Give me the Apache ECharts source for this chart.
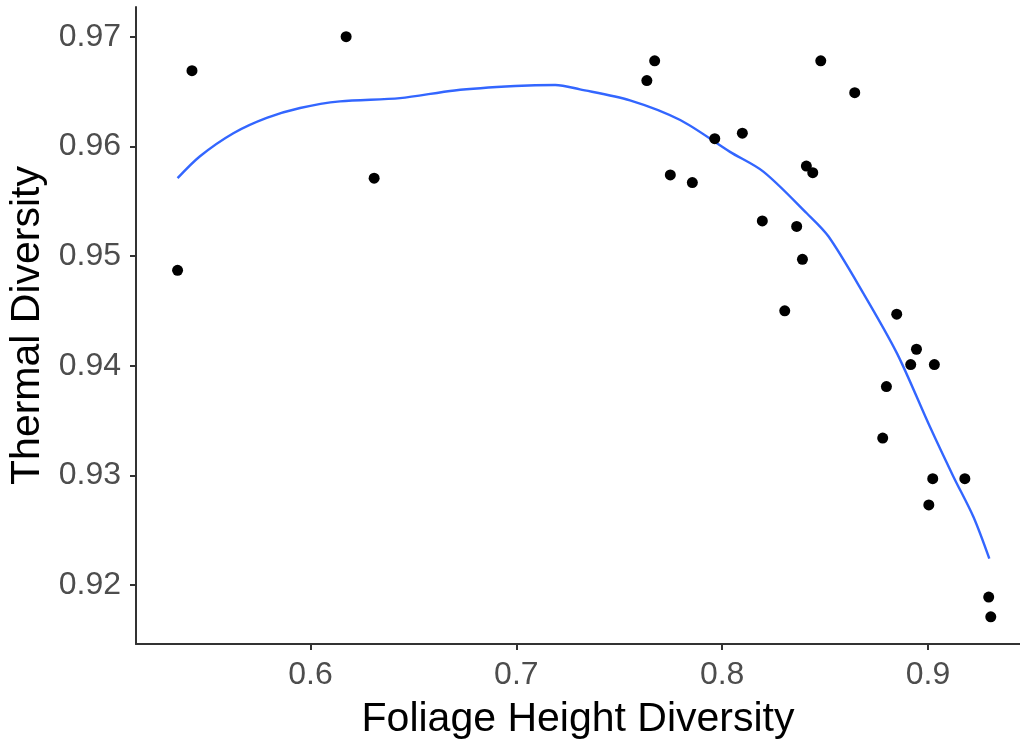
<!DOCTYPE html>
<html>
<head>
<meta charset="utf-8">
<title>Thermal vs Foliage Height Diversity</title>
<script src="https://cdn.jsdelivr.net/npm/echarts@6/dist/echarts.min.js"></script>
<style>
  html, body { margin: 0; padding: 0; background: #fff; }
  #chart { width: 1020px; height: 744px; }
</style>
</head>
<body>
<div id="chart"></div>
<script>
  // observed sites: foliage height diversity / thermal diversity
  var foliageX = [0.5354, 0.5424, 0.6173, 0.6309, 0.7634, 0.7672, 0.7748, 0.7855, 0.7964, 0.8098,
    0.8195, 0.8304, 0.8362, 0.8409, 0.8440, 0.8390, 0.8479, 0.8644, 0.8848, 0.8944,
    0.8916, 0.9031, 0.8798, 0.8780, 0.9023, 0.9179, 0.9004, 0.9295, 0.9305]
  var thermalY = [0.9487, 0.9669, 0.9700, 0.9571, 0.9660, 0.9678, 0.9574, 0.9567, 0.9607, 0.9612,
    0.9532, 0.9450, 0.9527, 0.9582, 0.9576, 0.9497, 0.9678, 0.9649, 0.9447, 0.9415,
    0.9401, 0.9401, 0.9381, 0.9334, 0.9297, 0.9297, 0.9273, 0.9189, 0.9171]

  // loess fit
  var fitX = [0.5354, 0.5463, 0.5625, 0.5787, 0.5949, 0.6143, 0.6435, 0.6700, 0.6994, 0.7189,
    0.7309, 0.7552, 0.7796, 0.8038, 0.8200, 0.8411, 0.8516, 0.8686, 0.8850, 0.9010,
    0.9123, 0.9221, 0.9298]
  var fitY = [0.9571, 0.9591, 0.9612, 0.9626, 0.9635, 0.9641, 0.9644, 0.9651, 0.9655, 0.9656,
    0.9652, 0.9642, 0.9624, 0.9595, 0.9577, 0.9539, 0.9518, 0.9466, 0.9411, 0.9344,
    0.9299, 0.9262, 0.9224]

  var xTicks = [0.6, 0.7, 0.8, 0.9]
  var yTicks = [0.92, 0.93, 0.94, 0.95, 0.96, 0.97]

  var points = foliageX.map(function (x, i) { return [x, thermalY[i]] })
  var fit = fitX.map(function (x, i) { return [x, fitY[i]] })

  var chart = echarts.init(document.getElementById('chart'))
  chart.setOption({
    animation: false,
    grid: { left: 136, right: 0, top: 7, bottom: 100, containLabel: false, outerBoundsMode: 'none' },
    xAxis: {
      type: 'value',
      min: 0.5152,
      max: 0.9447,
      name: 'Foliage Height Diversity',
      nameLocation: 'middle',
      nameGap: 55,
      nameTextStyle: { color: '#000', fontSize: 41, fontFamily: 'Liberation Sans' },
      axisLine: { show: true, onZero: false, lineStyle: { color: '#333', width: 2 } },
      axisTick: { show: true, length: 6, customValues: xTicks, lineStyle: { color: '#333', width: 2 } },
      axisLabel: {
        customValues: xTicks,
        margin: 15,
        color: '#4D4D4D',
        fontSize: 32,
        fontFamily: 'Liberation Sans',
        formatter: function (v) { return v.toFixed(1) }
      },
      splitLine: { show: false }
    },
    yAxis: {
      type: 'value',
      min: 0.91462,
      max: 0.97271,
      name: 'Thermal Diversity',
      nameLocation: 'middle',
      nameGap: 82,
      nameTextStyle: { color: '#000', fontSize: 41, fontFamily: 'Liberation Sans' },
      axisLine: { show: true, onZero: false, lineStyle: { color: '#333', width: 2 } },
      axisTick: { show: true, length: 6, customValues: yTicks, lineStyle: { color: '#333', width: 2 } },
      axisLabel: {
        customValues: yTicks,
        margin: 15,
        color: '#4D4D4D',
        fontSize: 32,
        fontFamily: 'Liberation Sans',
        formatter: function (v) { return v.toFixed(2) }
      },
      splitLine: { show: false }
    },
    series: [
      {
        type: 'scatter',
        data: points,
        symbolSize: 11,
        itemStyle: { color: '#000', opacity: 1 },
        z: 3
      },
      {
        type: 'line',
        data: fit,
        smooth: 0.3,
        showSymbol: false,
        lineStyle: { color: '#3366FF', width: 2.4 },
        z: 2
      }
    ]
  })
</script>
</body>
</html>
